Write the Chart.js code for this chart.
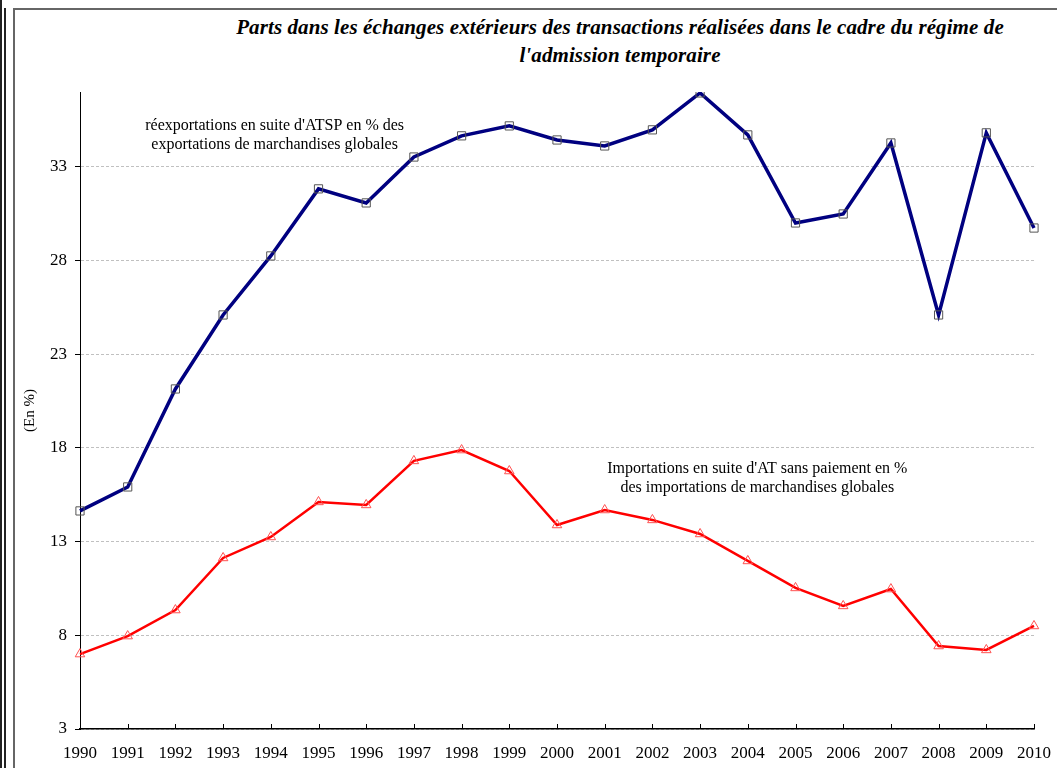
<!DOCTYPE html>
<html>
<head>
<meta charset="utf-8">
<script src="https://cdn.jsdelivr.net/npm/chart.js@4"></script>
<style>
  html, body { margin: 0; padding: 0; background: #fff; }
  #wrap { position: relative; width: 1057px; height: 768px; overflow: hidden; }
  .edge1 { position: absolute; left: 0; top: 0; width: 2px; height: 768px; background: #222; }
  .edge2 { position: absolute; left: 4px; top: 8px; width: 2px; height: 760px; background: #222; }
  .frameL { position: absolute; left: 13px; top: 8px; width: 2px; height: 760px; background: #666; }
  .frameT { position: absolute; left: 13px; top: 8px; width: 1044px; height: 2px; background: #666; }
  #title { position: absolute; left: 160px; width: 920px; top: 13px; text-align: center;
    font-family: "Liberation Serif", serif; font-weight: bold; font-style: italic;
    font-size: 21px; line-height: 28px; color: #000; letter-spacing: 0.1px; }
  canvas { position: absolute; left: 0; top: 0; }
</style>
</head>
<body>
<div id="wrap">
  <div class="edge1"></div><div class="edge2"></div>
  <div class="frameL"></div><div class="frameT"></div>
  <div id="title">Parts dans les échanges extérieurs des transactions réalisées dans le cadre du régime de<br>l'admission temporaire</div>
  <canvas id="lineChart" width="1057" height="768"></canvas>
</div>
<script>
const years = ["1990", "1991", "1992", "1993", "1994", "1995", "1996", "1997", "1998", "1999", "2000",
  "2001", "2002", "2003", "2004", "2005", "2006", "2007", "2008", "2009", "2010"];
const reexports = [14.64, 15.92, 21.15, 25.10, 28.25, 31.83, 31.08, 33.53, 34.66, 35.19, 34.44,
  34.12, 34.98, 36.95, 34.71, 30.01, 30.49, 34.28, 25.10, 34.82, 29.74];
const imports = [7.0, 7.96, 9.35, 12.13, 13.25, 15.12, 14.96, 17.31, 17.89, 16.77, 13.89,
  14.69, 14.16, 13.41, 11.97, 10.53, 9.57, 10.47, 7.43, 7.22, 8.50];
const yTicks = [3, 8, 13, 18, 23, 28, 33];
const reexportLabel = ["réexportations en suite d'ATSP en % des", "exportations de marchandises globales"];
const importLabel = ["Importations en suite d'AT sans paiement en %", "des importations de marchandises globales"];

// small plugin: inside tick marks on the x axis + the two series captions
const extras = {
  id: 'extras',
  afterDraw(chart) {
    const ctx = chart.ctx;
    const xs = chart.scales.x, ys = chart.scales.y;
    ctx.save();
    ctx.strokeStyle = '#000';
    ctx.lineWidth = 1;
    ctx.beginPath();
    for (let i = 0; i < years.length; i++) {
      const px = Math.round(xs.getPixelForValue(i)) + 0.5;
      ctx.moveTo(px, ys.bottom);
      ctx.lineTo(px, ys.bottom - 5);
    }
    ctx.stroke();

    ctx.fillStyle = '#000';
    ctx.font = '16px "Liberation Serif", serif';
    ctx.textAlign = 'center';
    ctx.textBaseline = 'middle';
    const ax = xs.getPixelForValue(4.08);
    ctx.fillText(reexportLabel[0], ax, ys.getPixelForValue(35.2));
    ctx.fillText(reexportLabel[1], ax, ys.getPixelForValue(34.2));
    const bx = xs.getPixelForValue(14.2);
    ctx.fillText(importLabel[0], bx, ys.getPixelForValue(16.9));
    ctx.fillText(importLabel[1], bx, ys.getPixelForValue(15.9));
    ctx.restore();
  }
};

const ctx = document.getElementById('lineChart');
const myChart = new Chart(ctx, {
  type: 'line',
  data: {
    labels: years,
    datasets: [
      {
        label: "réexportations",
        data: reexports,
        borderColor: "#000080",
        backgroundColor: "rgba(0,0,0,0)",
        borderWidth: 3.5,
        pointStyle: 'rect',
        radius: 5.8,
        pointBorderColor: "#555",
        pointBackgroundColor: "rgba(255,255,255,0)",
        pointBorderWidth: 1,
        fill: false,
        lineTension: 0
      },
      {
        label: "importations",
        data: imports,
        borderColor: "#ff0000",
        backgroundColor: "rgba(0,0,0,0)",
        borderWidth: 2.5,
        pointStyle: 'triangle',
        radius: 5.5,
        pointBorderColor: "#ff5050",
        pointBackgroundColor: "rgba(255,255,255,0)",
        pointBorderWidth: 1,
        fill: false,
        lineTension: 0
      }
    ]
  },
  options: {
    responsive: false,
    animation: false,
    layout: { padding: { top: 92, right: 17, left: 0, bottom: 0 } },
    plugins: {
      legend: { display: false },
      tooltip: { enabled: false }
    },
    scales: {
      x: {
        offset: false,
        grid: { display: false },
        border: { display: true, color: '#000', width: 1.5 },
        ticks: {
          color: '#000', padding: 6, maxRotation: 0, autoSkip: false,
          font: { family: '"Liberation Serif", serif', size: 17 }
        },
        afterFit(scale) { scale.height = 39; }
      },
      y: {
        min: 3,
        max: 37,
        afterBuildTicks(scale) { scale.ticks = yTicks.map(v => ({ value: v })); },
        grid: {
          color: '#c0c0c0', lineWidth: 1, drawTicks: true, tickLength: 5,
          tickColor: '#000', tickBorderDash: []
        },
        border: { display: true, color: '#000', width: 1, dash: [3, 2] },
        ticks: {
          color: '#000', padding: 8,
          font: { family: '"Liberation Serif", serif', size: 17 }
        },
        title: {
          display: true, text: '(En %)', color: '#000',
          font: { family: '"Liberation Serif", serif', size: 15 },
          padding: { top: 21, bottom: 0 }
        },
        afterFit(scale) { scale.width = 80; }
      }
    }
  },
  plugins: [extras]
});
</script>
</body>
</html>
